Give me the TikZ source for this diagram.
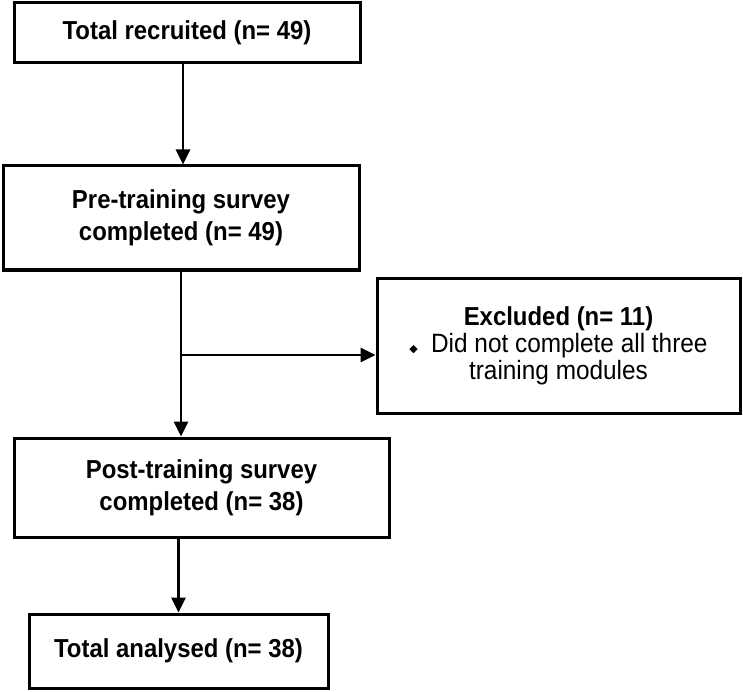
\documentclass[tikz,border=0pt]{standalone}
\usepackage{fontspec}
\setmainfont[FakeStretch=0.92]{Liberation Sans}
\newfontfamily\symfont{DejaVu Sans}
\usepackage{tikz}
\usetikzlibrary{arrows.meta,positioning,calc}

\begin{document}
\begin{tikzpicture}[
  x=1pt, y=-1pt,
  stage/.style={rectangle, draw=black, line width=3pt, align=center,
    inner sep=0pt, font=\fontsize{26}{32}\selectfont\bfseries},
  excl/.style={rectangle, draw=black, line width=3pt, align=center,
    inner sep=0pt, font=\fontsize{26.5}{27}\selectfont},
  arr/.style={-{Triangle[length=15pt, width=14pt]}, line width=2.8pt},
]
\useasboundingbox (0,0) rectangle (743,692);

% BOXES (main column)
\node[stage, minimum width=346pt, minimum height=60pt] (recruit) at (187,33)
  {Total recruited (n= 49)};
\node[stage, minimum width=356pt, minimum height=104pt] (pre) at (181,218)
  {Pre-training survey\\completed (n= 49)};
\node[stage, minimum width=375pt, minimum height=99pt] (post) at (201.5,487.5)
  {Post-training survey\\completed (n= 38)};
\node[stage, minimum width=299pt, minimum height=74pt] (analysed) at (178.5,651)
  {Total analysed (n= 38)};

% EXCLUSION (side box)
\node[excl, minimum width=363pt, minimum height=135pt] (excluded) at (558.5,345.5)
  {{\fontsize{26}{27}\selectfont\bfseries Excluded (n= 11)}\\
   {\symfont\fontsize{11}{11}\selectfont ◆}\enspace Did not complete all three\\
   training modules};

% ARROWS
\coordinate (split) at (181,355);
\draw[arr] ([xshift=-4pt]recruit.south) -- ([xshift=-4pt]recruit.south |- pre.north);
\draw[arr] (pre.south) -- (pre.south |- post.north);
\draw[arr] (split) -- (split -| excluded.west);
\draw[arr] (post.south -| analysed.north) -- (analysed.north);
\end{tikzpicture}
\end{document}
